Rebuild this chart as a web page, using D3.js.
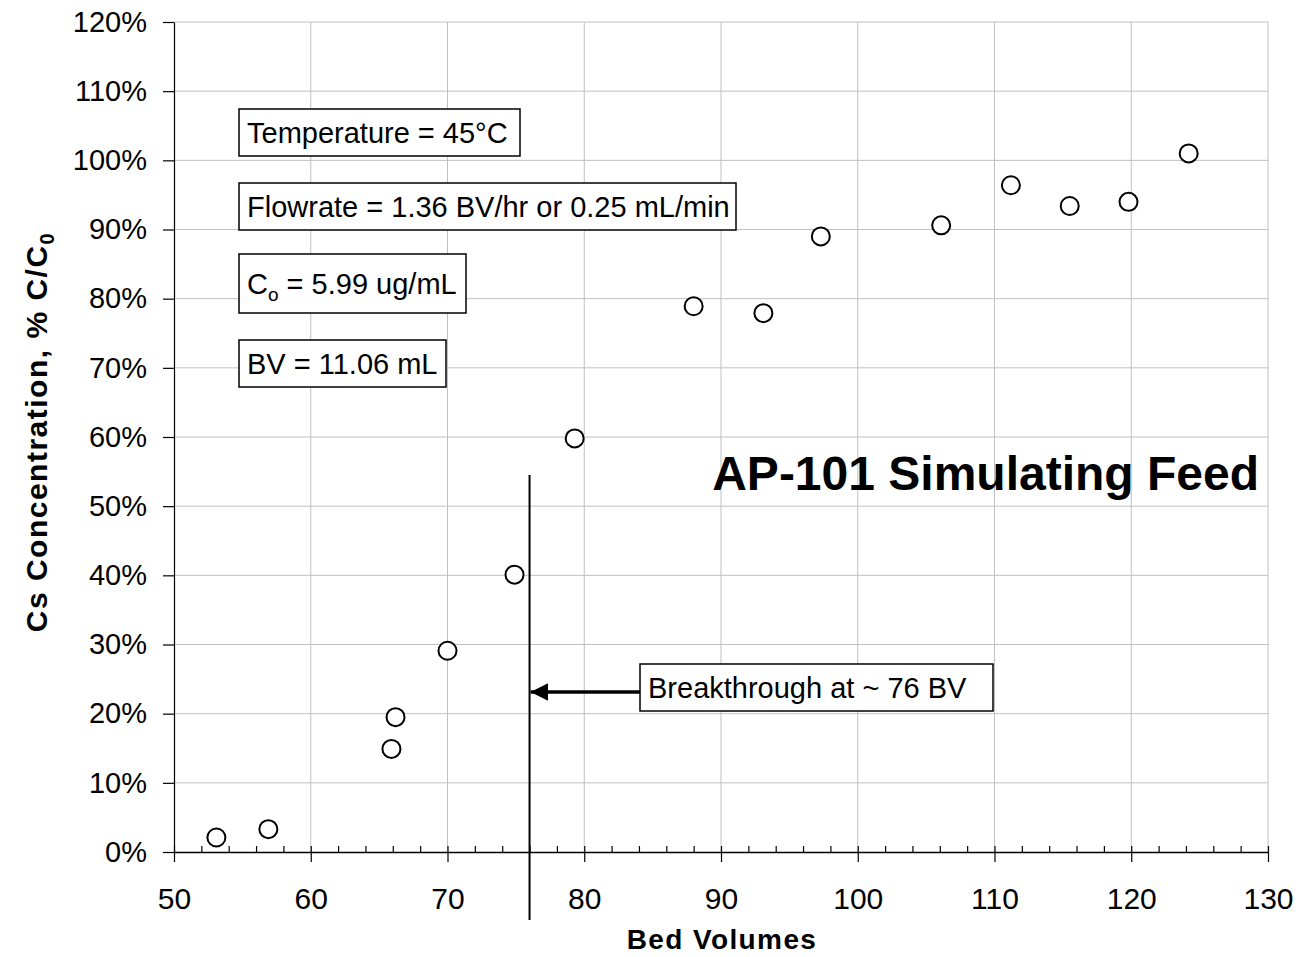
<!DOCTYPE html>
<html>
<head>
<meta charset="utf-8">
<script src="https://cdn.jsdelivr.net/npm/d3@7"></script>
<style>
  body { margin: 0; background: #fff; }
  text { font-family: Arial, "Liberation Sans", sans-serif; }
</style>
</head>
<body>
<main></main>
<script>
// datos
const bedVolumes = [53.1, 56.9, 65.9, 66.2, 70.0, 74.9, 79.3, 88.0, 93.1, 97.3, 106.1, 111.2, 115.5, 119.8, 124.2];
const concPct = [2.1, 3.3, 14.9, 19.5, 29.1, 40.1, 59.8, 78.9, 77.9, 89.0, 90.6, 96.4, 93.4, 94.0, 101.0];
const xTicks = [50, 60, 70, 80, 90, 100, 110, 120, 130];
const yTicks = [0, 10, 20, 30, 40, 50, 60, 70, 80, 90, 100, 110, 120];
const breakthrough = 76;

const w = 1300, h = 957;
const m = { left: 174, right: 32, top: 22, bottom: 105 };
const fuente = 'Arial, "Liberation Sans", sans-serif';

const svg = d3.select('main').append('svg')
    .attr('width', w).attr('height', h);

const x = d3.scaleLinear().domain([50, 130]).range([m.left, w - m.right]);
const y = d3.scaleLinear().domain([0, 120]).range([h - m.bottom, m.top]);

// rejilla
svg.append('g').selectAll('line').data(yTicks.slice(1)).enter().append('line')
    .attr('x1', m.left).attr('x2', w - m.right)
    .attr('y1', d => y(d)).attr('y2', d => y(d))
    .attr('stroke', '#c0c0c0').attr('stroke-width', 1);
svg.append('g').selectAll('line').data(xTicks.slice(1)).enter().append('line')
    .attr('x1', d => x(d)).attr('x2', d => x(d))
    .attr('y1', m.top).attr('y2', y(0))
    .attr('stroke', '#c0c0c0').attr('stroke-width', 1);

// eje x: menores hacia dentro, mayores cruzando
const gx = svg.append('g').attr('transform', `translate(0,${y(0)})`);
gx.append('g').call(d3.axisTop(x).tickValues(d3.range(52, 130, 2).filter(d => d % 10)).tickSize(6).tickFormat(''))
    .call(g => g.select('.domain').remove());
gx.append('g').call(d3.axisBottom(x).tickValues(xTicks).tickSize(10).tickPadding(26).tickSizeOuter(0))
    .call(g => g.selectAll('.tick line').attr('y1', -6))
    .call(g => g.selectAll('text').attr('font-size', 30).attr('fill', '#000').style('font-family', fuente));
gx.selectAll('.domain').attr('stroke', '#000').attr('stroke-width', 1.5);
gx.selectAll('line').attr('stroke', '#000').attr('stroke-width', 1.2);

// eje y
const gy = svg.append('g').attr('transform', `translate(${m.left},0)`);
gy.call(d3.axisLeft(y).tickValues(yTicks).tickSize(11).tickPadding(16).tickSizeOuter(0).tickFormat(d => d + '%'))
    .call(g => g.selectAll('text').attr('font-size', 29).attr('fill', '#000').style('font-family', fuente));
gy.select('.domain').attr('stroke', '#000').attr('stroke-width', 1.2);
gy.selectAll('line').attr('stroke', '#000').attr('stroke-width', 1.2);

// linea de ruptura
svg.append('line')
    .attr('x1', x(breakthrough)).attr('x2', x(breakthrough))
    .attr('y1', y(54.5)).attr('y2', 920)
    .attr('stroke', '#000').attr('stroke-width', 2);

// puntos
svg.append('g').selectAll('circle').data(bedVolumes).enter().append('circle')
    .attr('cx', d => x(d))
    .attr('cy', (d, i) => y(concPct[i]))
    .attr('r', 9)
    .attr('fill', '#fff').attr('stroke', '#000').attr('stroke-width', 2);

// titulos de ejes
svg.append('text').attr('x', 722).attr('y', 949)
    .attr('text-anchor', 'middle').attr('font-size', 28).attr('font-weight', 'bold')
    .attr('letter-spacing', 1.4)
    .text('Bed Volumes');

const yt = svg.append('text')
    .attr('transform', `translate(47,432) rotate(-90)`)
    .attr('text-anchor', 'middle').attr('font-size', 30).attr('font-weight', 'bold')
    .attr('letter-spacing', 1.5);
yt.append('tspan').text('Cs Concentration, % C/C');
yt.append('tspan').attr('font-size', 20).attr('dy', 7).text('0');

// titulo
svg.append('text').attr('x', 1259).attr('y', 490)
    .attr('text-anchor', 'end').attr('font-size', 48).attr('font-weight', 'bold')
    .text('AP-101 Simulating Feed');

// cajas de texto
function caja(x0, y0, ancho, alto, construir) {
    svg.append('rect').attr('x', x0).attr('y', y0).attr('width', ancho).attr('height', alto)
        .attr('fill', '#fff').attr('stroke', '#000').attr('stroke-width', 1.5);
    const t = svg.append('text').attr('x', x0 + 8).attr('y', y0 + alto / 2 + 10).attr('font-size', 29);
    construir(t);
}
caja(239, 109, 281, 47, t => t.text('Temperature = 45°C'));
caja(239, 183, 497, 47, t => t.text('Flowrate = 1.36 BV/hr or 0.25 mL/min'));
caja(239, 254, 227, 59, t => {
    t.append('tspan').text('C');
    t.append('tspan').attr('font-size', 19).attr('dy', 7).text('o');
    t.append('tspan').attr('dy', -7).text(' = 5.99 ug/mL');
});
caja(239, 340, 207, 47, t => t.text('BV = 11.06 mL'));

// flecha
svg.append('defs').append('marker')
    .attr('id', 'punta').attr('viewBox', '0 0 10 10')
    .attr('refX', 10).attr('refY', 5)
    .attr('markerWidth', 4.8).attr('markerHeight', 4.8).attr('markerUnits', 'strokeWidth')
    .attr('orient', 'auto')
    .append('path').attr('d', 'M0,0L10,5L0,10z').attr('fill', '#000');
svg.append('line')
    .attr('x1', 641).attr('y1', 692).attr('x2', x(breakthrough) + 1).attr('y2', 692)
    .attr('stroke', '#000').attr('stroke-width', 3.7)
    .attr('marker-end', 'url(#punta)');
caja(640, 664, 353, 47, t => t.text('Breakthrough at ~ 76 BV'));
</script>
</body>
</html>
